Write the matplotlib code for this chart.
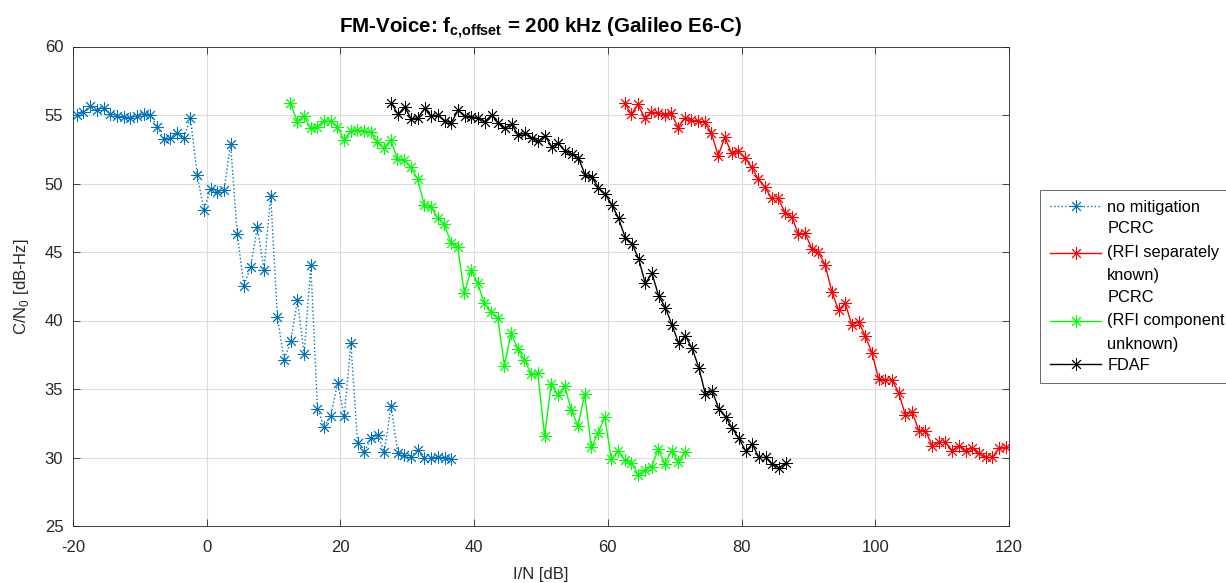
import numpy as np
import matplotlib
matplotlib.use('Agg')
import matplotlib.pyplot as plt

plt.rcParams['font.family'] = ['Liberation Sans', 'DejaVu Sans']
plt.rcParams['mathtext.fontset'] = 'custom'
plt.rcParams['mathtext.rm'] = 'Liberation Sans'
plt.rcParams['mathtext.bf'] = 'Liberation Sans:bold'
plt.rcParams['axes.unicode_minus'] = False

# C/N0 [dB-Hz], points spaced 1 dB in I/N
blue_x0 = -19.43
blue_y = [55.0, 55.2, 55.66, 55.36, 55.5, 55.1, 54.95, 54.83, 54.8, 54.9,
          55.1, 55.0, 54.15, 53.25, 53.3, 53.7, 53.35, 54.75, 50.65, 48.07,
          49.58, 49.37, 49.5, 52.86, 46.29, 42.52, 43.93, 46.8, 43.72, 49.11,
          40.28, 37.12, 38.5, 41.5, 37.53, 44.05, 33.54, 32.25, 33.05, 35.42,
          33.0, 38.33, 31.04, 30.4, 31.42, 31.65, 30.42, 33.78, 30.35, 30.15,
          30.07, 30.58, 29.94, 29.94, 30.06, 29.99, 29.9]

red_x0 = 62.5
red_y = [55.9, 55.04, 55.77, 54.8, 55.19, 55.17, 55.0, 55.12, 54.07, 54.8,
         54.63, 54.56, 54.46, 53.66, 52.03, 53.37, 52.2, 52.37, 51.88, 51.18,
         50.33, 49.72, 48.91, 48.91, 47.87, 47.58, 46.29, 46.36, 45.24, 44.97,
         44.07, 42.08, 40.77, 41.25, 39.67, 39.91, 38.87, 37.65, 35.73, 35.66,
         35.66, 34.73, 33.1, 33.35, 31.96, 31.96, 30.87, 31.11, 31.11, 30.5,
         30.87, 30.5, 30.72, 30.31, 30.01, 30.01, 30.67, 30.74]

green_x0 = 12.53
green_y = [55.9, 54.51, 54.93, 54.03, 54.15, 54.56, 54.56, 54.15, 53.18, 53.83,
           53.9, 53.83, 53.73, 53.05, 52.61, 53.18, 51.79, 51.72, 51.18, 50.33,
           48.45, 48.31, 47.48, 47.02, 45.69, 45.39, 41.98, 43.69, 42.71, 41.25,
           40.64, 40.16, 36.7, 39.11, 37.9, 37.12, 36.1, 36.15, 31.57, 35.36,
           34.56, 35.24, 33.46, 32.32, 34.61, 30.74, 31.76, 32.98, 29.86, 30.5,
           29.82, 29.62, 28.72, 29.09, 29.33, 30.6, 29.53, 30.48, 29.7, 30.38]

black_x0 = 27.6
black_y = [55.9, 55.04, 55.6, 54.7, 54.8, 55.48, 54.92, 54.99, 54.56, 54.44,
           55.36, 54.92, 54.87, 54.8, 54.51, 54.99, 54.44, 54.03, 54.32, 53.54,
           53.66, 53.3, 53.1, 53.47, 52.69, 52.93, 52.37, 52.15, 51.88, 50.62,
           50.45, 49.7, 49.2, 48.45, 47.45, 46.05, 45.62, 44.51, 42.71, 43.44,
           41.79, 40.94, 39.67, 38.33, 38.87, 37.97, 36.56, 34.61, 34.88, 33.54,
           32.98, 32.13, 31.4, 30.48, 30.96, 30.01, 30.01, 29.5, 29.26, 29.57]

labels = ['no mitigation', 'PCRC\n(RFI separately\nknown)',
          'PCRC\n(RFI component\nunknown)', 'FDAF']

def xs(x0, ys):
    return x0 + np.arange(len(ys))

fig = plt.figure(figsize=(12.26, 5.83), dpi=100)
ax = fig.add_axes([73 / 1226, 1 - 526 / 583, (1009 - 73) / 1226, (526 - 46.5) / 583])

star = (8, 2, 0)
kw = dict(marker=star, markersize=9, markeredgewidth=0.65, linewidth=1)
ax.plot(xs(blue_x0, blue_y), blue_y, ':', color='#0072BD', label=labels[0], **kw)
ax.plot(xs(red_x0, red_y), red_y, '-', color='#FF0000', label=labels[1], **kw)
ax.plot(xs(green_x0, green_y), green_y, '-', color='#00FF00', label=labels[2], **kw)
ax.plot(xs(black_x0, black_y), black_y, '-', color='#000000', label=labels[3], **kw)

ax.set_xlim(-20, 120)
ax.set_ylim(25, 60)
ax.set_xticks(np.arange(-20, 121, 20))
ax.set_yticks(np.arange(25, 61, 5))
ax.tick_params(direction='in', top=True, right=True, labelsize=12,
               colors='#262626', length=5, width=0.6)
ax.tick_params(axis='x', pad=10)
ax.tick_params(axis='y', pad=7)
for s in ax.spines.values():
    s.set_color('#262626')
    s.set_linewidth(0.6)
ax.grid(True, color='#dcdcdc', linewidth=0.8)
ax.set_axisbelow(True)

ax.set_xlabel('I/N [dB]', fontsize=12, color='#262626', labelpad=9)
ax.set_ylabel('C/N$_0$ [dB-Hz]', fontsize=12, color='#262626', labelpad=10)
ax.set_title(r'FM-Voice: f$_{\mathbf{c{,}offset}}$ = 200 kHz (Galileo E6-C)',
             fontsize=14.8, fontweight='bold', pad=10)

leg = fig.legend(loc='upper left', bbox_to_anchor=(1040 / 1226, 1 - 190 / 583),
                 fontsize=11.8, frameon=True, fancybox=False, edgecolor='#262626',
                 handlelength=3.15, handletextpad=0.35, labelspacing=0.4,
                 borderpad=0.6, borderaxespad=0)
leg.get_frame().set_linewidth(0.6)
for t in leg.get_texts():
    t.set_linespacing(1.7)

fig.savefig('out.png', dpi=100, facecolor='white')
